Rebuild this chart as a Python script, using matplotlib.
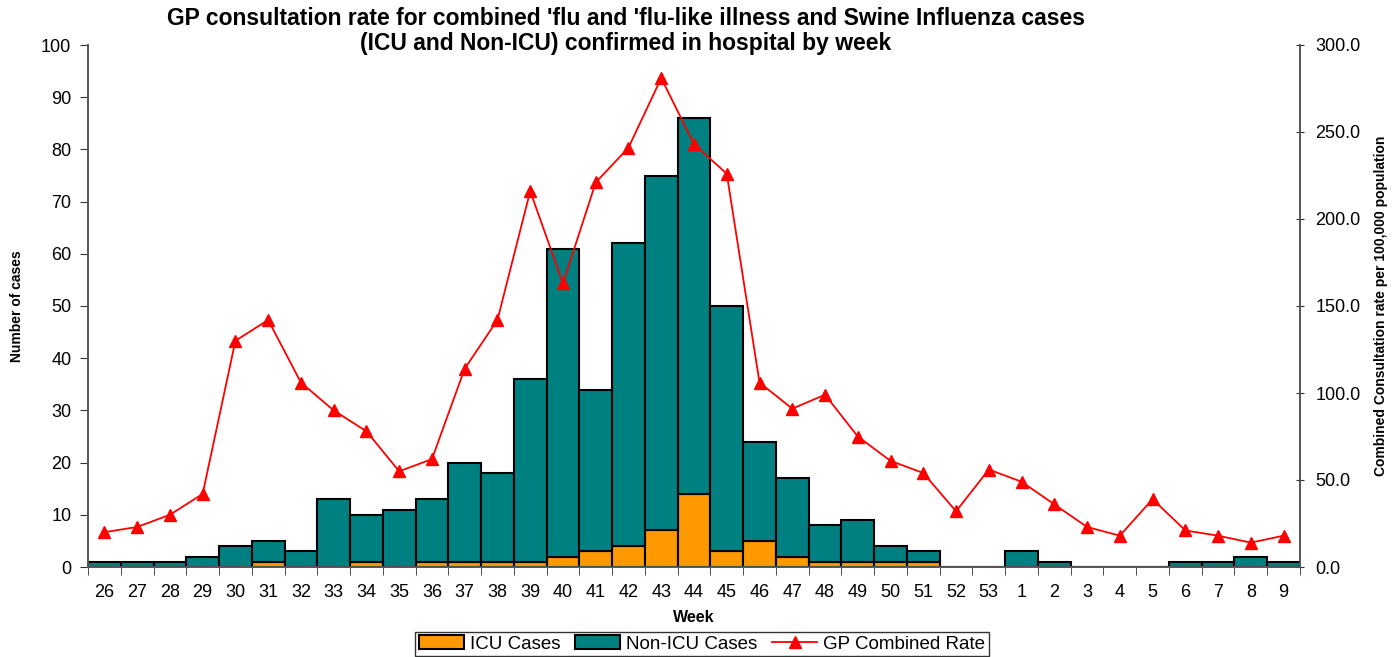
import matplotlib.pyplot as plt
import numpy as np

plt.rcParams['font.family'] = ['Liberation Sans', 'DejaVu Sans']

weeks = ['26', '27', '28', '29', '30', '31', '32', '33', '34', '35', '36', '37',
         '38', '39', '40', '41', '42', '43', '44', '45', '46', '47', '48', '49',
         '50', '51', '52', '53', '1', '2', '3', '4', '5', '6', '7', '8', '9']
icu_cases = [0, 0, 0, 0, 0, 1, 0, 0, 1, 0, 1, 1, 1, 1, 2, 3, 4, 7, 14, 3, 5, 2,
             1, 1, 1, 1, 0, 0, 0, 0, 0, 0, 0, 0, 0, 0, 0]
total_cases = [1, 1, 1, 2, 4, 5, 3, 13, 10, 11, 13, 20, 18, 36, 61, 34, 62, 75, 86,
               50, 24, 17, 8, 9, 4, 3, 0, 0, 3, 1, 0, 0, 0, 1, 1, 2, 1]
gp_rate = [20, 23, 30, 42, 130, 142, 106, 90, 78, 55, 62, 114, 142, 216, 163, 221,
           241, 281, 243, 226, 106, 91, 99, 75, 61, 54, 32, 56, 49, 36, 23, 18, 39,
           21, 18, 14, 18]

icu = np.array(icu_cases)
non_icu = np.array(total_cases) - icu
x = np.arange(len(weeks))

fig = plt.figure(figsize=(14, 6.57), dpi=100)
ax = fig.add_axes([88/1400, 1 - 567/657, 1212/1400, 522/657])
ax2 = ax.twinx()

ax.bar(x, icu, width=1.0, color='#FF9900', edgecolor='black', linewidth=1.5,
       label='ICU Cases', zorder=2)
ax.bar(x, non_icu, width=1.0, bottom=icu, color='#008080', edgecolor='black',
       linewidth=1.5, label='Non-ICU Cases', zorder=2)
ax2.plot(x, gp_rate, color='red', marker='^', markersize=8, linewidth=1.3,
         label='GP Combined Rate')

ax.set_xlim(-0.5, len(weeks) - 0.5)
ax.set_ylim(0, 100)
ax2.set_ylim(0, 300)
ax.set_yticks(np.arange(0, 101, 10))
ax2.set_yticks(np.arange(0, 301, 50))
ax2.set_yticklabels([f'{v:.1f}' for v in np.arange(0, 301, 50)])

ax.set_xticks(x)
ax.set_xticklabels(weeks)
ax.set_xticks(np.arange(-0.5, len(weeks), 1), minor=True)
ax.tick_params(axis='x', which='major', length=0, labelsize=13, pad=12)
ax.tick_params(axis='x', which='minor', length=6, color='#333333')
ax.tick_params(axis='y', labelsize=13, length=6, pad=6, color='#333333')
ax2.tick_params(axis='y', labelsize=13, length=6, direction='inout', pad=8,
                color='#333333')

for a in (ax, ax2):
    a.spines['top'].set_visible(False)
    for s in ('left', 'right', 'bottom'):
        a.spines[s].set_color('#555555')
        a.spines[s].set_linewidth(1.2)

ax.set_xlabel('Week', fontsize=11.5, fontweight='bold', labelpad=7)
ax.set_ylabel('Number of cases', fontsize=10, fontweight='bold', labelpad=12)
ax2.set_ylabel('Combined Consultation rate per 100,000 population', fontsize=10,
               fontweight='bold', labelpad=10)

fig.text(626/1400, 1 - 31/657,
         "GP consultation rate for combined 'flu and 'flu-like illness and Swine Influenza cases\n"
         "(ICU and Non-ICU) confirmed in hospital by week",
         ha='center', va='center', fontsize=16.5, fontweight='bold', linespacing=1.15)

h1, l1 = ax.get_legend_handles_labels()
h2, l2 = ax2.get_legend_handles_labels()
leg = fig.legend(h1 + h2, l1 + l2, loc='center', bbox_to_anchor=(702/1400, 1 - 644/657),
                 ncol=3, fontsize=13.5, frameon=True, fancybox=False, edgecolor='black',
                 handlelength=2.4, handletextpad=0.3, columnspacing=0.8,
                 borderpad=0.2)
leg.get_frame().set_linewidth(1.0)

fig.savefig('out.png', dpi=100)
